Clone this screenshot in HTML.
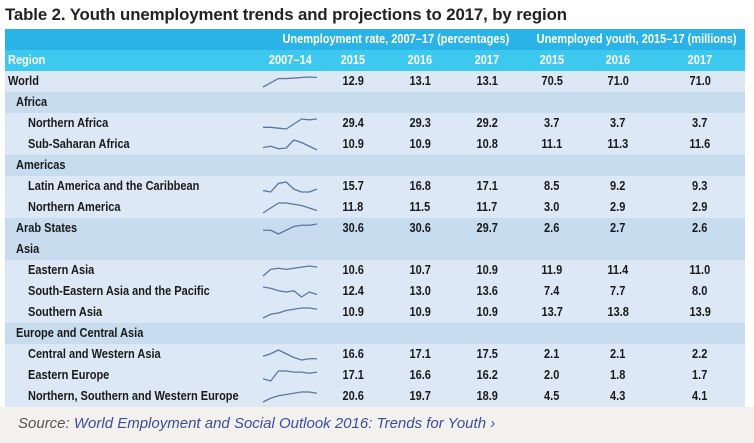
<!DOCTYPE html>
<html><head><meta charset="utf-8"><style>
body{margin:0;width:754px;height:443px;background:#fff;position:relative;overflow:hidden;font-family:"Liberation Sans",sans-serif}
.t{position:absolute;white-space:nowrap}
#title{left:5px;top:5px;font:bold 16.8px "Liberation Sans",sans-serif;color:#222;letter-spacing:-0.1px}
.row{position:absolute;left:5px;width:740px;height:21px}
.cell{position:absolute;top:0;height:21px;line-height:21px;font-weight:bold;font-size:12.5px;color:#1a1a1a;white-space:nowrap}
.cell span{display:inline-block;transform:scaleX(0.88);transform-origin:left center}
.num span,.ctr span{transform-origin:center center}
.num{width:60px;text-align:center}
#src{position:absolute;left:0;top:407px;width:754px;height:36px;background:#f3f1ee}
</style></head><body>
<div id="title" class="t">Table 2. Youth unemployment trends and projections to 2017, by region</div>
<div class="row" style="top:29px;background:#2ab3e6">
 <div class="cell ctr" style="left:262px;width:248px;text-align:center;color:#fff"><span>Unemployment rate, 2007–17 (percentages)</span></div>
 <div class="cell ctr" style="left:518px;width:222px;text-align:center;color:#fff"><span>Unemployed youth, 2015–17 (millions)</span></div>
</div>
<div class="row" style="top:50px;background:#3dc8ef">
 <div class="cell" style="left:3px;color:#fff"><span>Region</span></div>
 <div class="cell num" style="left:255px;color:#fff"><span>2007–14</span></div>
 <div class="cell num" style="left:318px;color:#fff"><span>2015</span></div>
 <div class="cell num" style="left:385px;color:#fff"><span>2016</span></div>
 <div class="cell num" style="left:452px;color:#fff"><span>2017</span></div>
 <div class="cell num" style="left:517px;color:#fff"><span>2015</span></div>
 <div class="cell num" style="left:583px;color:#fff"><span>2016</span></div>
 <div class="cell num" style="left:665px;color:#fff"><span>2017</span></div>
</div>
<div id="body"></div>
<div id="src">
 <div class="t" style="left:18px;top:8px;font:italic 15px 'Liberation Sans',sans-serif;color:#555">Source: <span style="color:#3b4ea0">World Employment and Social Outlook 2016: Trends for Youth ›</span></div>
</div>
<script>
const regions=["World","Africa","Northern Africa","Sub-Saharan Africa","Americas","Latin America and the Caribbean","Northern America","Arab States","Asia","Eastern Asia","South-Eastern Asia and the Pacific","Southern Asia","Europe and Central Asia","Central and Western Asia","Eastern Europe","Northern, Southern and Western Europe"];
const levels=[0,1,2,2,1,2,2,1,1,2,2,2,1,2,2,2];
const rate2015=["12.9","","29.4","10.9","","15.7","11.8","30.6","","10.6","12.4","10.9","","16.6","17.1","20.6"];
const rate2016=["13.1","","29.3","10.9","","16.8","11.5","30.6","","10.7","13.0","10.9","","17.1","16.6","19.7"];
const rate2017=["13.1","","29.2","10.8","","17.1","11.7","29.7","","10.9","13.6","10.9","","17.5","16.2","18.9"];
const youth2015=["70.5","","3.7","11.1","","8.5","3.0","2.6","","11.9","7.4","13.7","","2.1","2.0","4.5"];
const youth2016=["71.0","","3.7","11.3","","9.2","2.9","2.7","","11.4","7.7","13.8","","2.1","1.8","4.3"];
const youth2017=["71.0","","3.7","11.6","","9.3","2.9","2.6","","11.0","8.0","13.9","","2.2","1.7","4.1"];
const trend=[[0,4,8,8,8.5,9,9.5,9],null,[3,3,2.5,2,5,8,7.5,8],[2,3,1,1.5,8,6,3,0],null,[2,1,7,8,3,1,1,3],[0,4,8,8,7,6,4,2],[3,3,0,3,6,7,7,8],null,[0,6,7,6,7,8,9,8],[8,7,5,4,5,0,4,2],[0,3,4,6,7,8,8,7],null,[3,5,8,5,2,0,1,1],[2,0,9,9,8,8,7,8],[0,3,5,6,7,8,8,7]];
const body=document.getElementById('body');
const cols=[[rate2015,318],[rate2016,385],[rate2017,452],[youth2015,517],[youth2016,583],[youth2017,665]];
const colNames=['rate-2015','rate-2016','rate-2017','youth-2015','youth-2016','youth-2017'];
const indent=[3,11,23];
regions.forEach((r,i)=>{
 const row=document.createElement('div');
 row.className='row';
 row.style.top=(71+i*21)+'px';
 const isGroup=levels[i]===1&&trend[i]===null;
 row.style.background=(isGroup||r==="Arab States")?'#c8dcf0':'#dce8f5';
 
 
 const n=document.createElement('div');
 n.className='cell';n.style.left=indent[levels[i]]+'px';
 n.innerHTML='<span></span>';n.firstChild.textContent=r;
 
 
 row.appendChild(n);
 if(trend[i]){
  const d=trend[i];const mn=Math.min(...d),mx=Math.max(...d);
  const xs=v=>258+v*(54/(d.length-1));
  const ys=v=>16-(v-mn)/(mx-mn||1)*10;
  const svgNS='http://www.w3.org/2000/svg';
  const s=document.createElementNS(svgNS,'svg');
  s.setAttribute('width','740');s.setAttribute('height','21');
  s.style.position='absolute';s.style.left='0';s.style.top='0';
  
  
  const p=document.createElementNS(svgNS,'polyline');
  p.setAttribute('points',d.map((v,k)=>xs(k)+','+ys(v)).join(' '));
  p.setAttribute('fill','none');p.setAttribute('stroke','#5a789e');p.setAttribute('stroke-width','1.3');
  p.setAttribute('stroke-linejoin','round');
  
  
  s.appendChild(p);row.appendChild(s);
 }
 cols.forEach(([arr,x],k)=>{
  if(!arr[i])return;
  const c=document.createElement('div');
  c.className='cell num';c.style.left=x+'px';
  c.innerHTML='<span></span>';c.firstChild.textContent=arr[i];
  
  
  row.appendChild(c);
 });
 body.appendChild(row);
});
</script>
</body></html>
